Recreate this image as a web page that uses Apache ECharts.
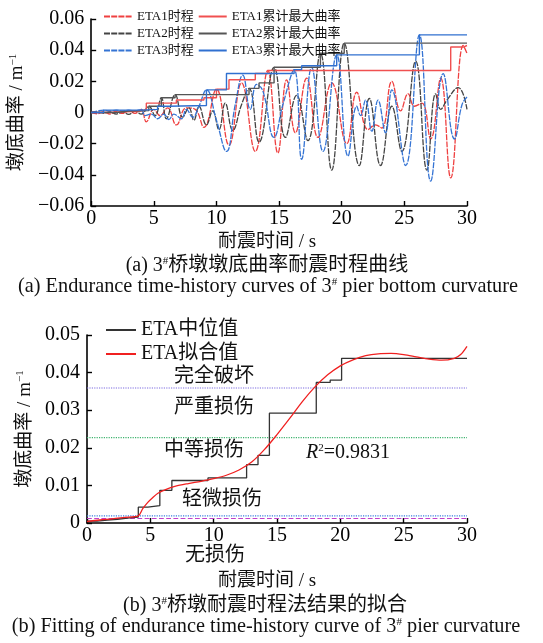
<!DOCTYPE html>
<html>
<head>
<meta charset="utf-8">
<script src="https://cdn.jsdelivr.net/npm/echarts@6/dist/echarts.min.js"></script>
<style>
  html, body { margin: 0; padding: 0; background: #fff; }
  #chart { width: 543px; height: 643px; }
</style>
</head>
<body>
<div id="chart"></div>
<script>
// ---- (a) pier-bottom curvature time histories (time in s, curvature in 1/m) ----
const eta1Time = [0,0.5,1,1.5,2,2.5,3,3.5,4,4.4,5.0,5.5,6.1,6.8,7.6,8.3,9.0,10.0,11.0,12.0,13.1,14.1,14.9,15.6,16.3,17.2,18.1,19.2,20.4,21.2,22.1,22.7,23.2,24.0,24.7,25.3,25.8,26.4,27.1,27.9,28.7,29.7,30];
const eta1Curv = [0,-0.0008,0.0005,-0.001,0.0008,-0.0006,0.001,-0.0005,0.002,-0.006,0.002,-0.002,0.003,-0.008,0.003,0.002,-0.0095,0.015,-0.021,0.019,-0.025,0.027,-0.026,0.021,-0.013,0.022,-0.016,0.019,-0.020,0.013,-0.011,-0.008,-0.010,0.020,0.001,0.012,0.004,0.006,-0.017,0.022,-0.042,0.043,0.038];

const eta2Time = [0,0.5,1,1.5,2,2.5,3,3.5,4,4.6,5.1,5.6,6.0,6.7,7.3,7.8,8.2,8.6,9.2,9.7,10.2,10.7,11.3,12.0,12.6,13.4,14.6,15.5,16.4,17.3,18.3,19.2,20.2,21.4,22.2,23.1,24.0,24.8,25.9,26.8,27.5,27.9,28.4,29.3,30];
const eta2Curv = [0,0.0005,-0.0005,0.0005,-0.001,0.0003,-0.0012,0.001,-0.001,0.004,-0.002,0.0095,-0.004,0.0115,-0.003,0.003,-0.005,0.004,-0.008,0.001,-0.011,0.006,-0.0115,0.005,0.0155,-0.019,0.029,-0.016,0.011,-0.018,0.038,-0.037,0.0445,-0.034,0.009,-0.034,0.004,-0.025,0.033,-0.037,0.012,0.002,0.008,0.016,0.002];

const eta3Time = [0,0.5,1,1.5,2,2.5,3,3.5,4,4.3,4.8,5.3,5.8,6.2,6.6,7.2,7.6,8.1,8.6,9.2,10.0,10.8,11.5,12.1,12.7,13.2,13.7,14.6,15.3,16.2,16.8,17.6,18.5,19.6,20.5,21.2,21.5,21.9,22.4,22.9,23.5,24.0,25.1,26.2,27.1,28.1,29.0,29.6,30];
const eta3Curv = [0,0.001,0.0015,0.001,0.0015,0.001,0.0015,0.001,0.002,-0.002,-0.001,-0.004,-0.001,-0.0045,-0.001,-0.004,0.002,-0.003,0.004,0.0145,-0.005,-0.025,0.005,0.024,0.002,0.018,0.014,-0.016,0.005,0.0275,-0.030,0.029,-0.025,0.037,-0.028,0.004,-0.002,0.008,-0.012,0.008,-0.013,0.0145,-0.034,0.0498,-0.044,0.025,-0.017,0.005,0.010];

// running maximum curvature (value holds from each time until the next)
const eta1MaxTime = [0,1.5,4.0,4.4,6.8,9.0,10.0,11.0,13.1,14.1,28.7,29.7,30];
const eta1MaxCurv = [0,0.001,0.002,0.006,0.008,0.0095,0.015,0.021,0.025,0.027,0.042,0.043,0.043];
const eta2MaxTime = [0,2.0,3.0,4.6,5.6,6.7,12.6,13.4,14.6,18.3,20.2,30];
const eta2MaxCurv = [0,0.001,0.0012,0.004,0.0095,0.0115,0.0155,0.019,0.029,0.038,0.0445,0.0445];
const eta3MaxTime = [0,1.0,4.0,5.3,6.2,9.2,10.8,16.2,16.8,19.6,26.2,30];
const eta3MaxCurv = [0,0.0015,0.002,0.004,0.0045,0.0145,0.025,0.0275,0.030,0.037,0.0498,0.0498];

// ---- (b) median and fitted endurance curve ----
const medianTime = [0,0.8,1.6,2.4,3.2,4.05,4.8,5.75,6.7,9.55,12.6,13.5,14.4,18.1,19.2,20.1,30];
const medianCurv = [0.0005,0.0008,0.001,0.0013,0.0016,0.0042,0.0046,0.0087,0.0113,0.012,0.0155,0.018,0.0292,0.0374,0.038,0.0438,0.0438];
const fitTime = [0,1,2,3,4.05,4.4,4.8,5.2,5.6,6.2,7,8,9,10,11,12,13,14,15,16,17,18,19,20,21,22,23,24,25,26,27,28,29,29.5,30];
const fitCurv = [0.0004,0.0008,0.0011,0.0015,0.0019,0.0038,0.0055,0.0068,0.0079,0.0089,0.0098,0.0105,0.0111,0.0118,0.0127,0.0141,0.0162,0.0195,0.0235,0.0278,0.0323,0.0362,0.0394,0.0418,0.0434,0.0445,0.045,0.0451,0.0448,0.0442,0.0436,0.0433,0.0438,0.0448,0.047];

// damage-state limit curvatures
const damageLimits = [0.0012, 0.0019, 0.0227, 0.0359];
const damageColors = ['#c23fc8', '#3c7fe0', '#3fb36e', '#7c6be0'];
const damageDash = ['dashed', 'dotted', 'dotted', 'dotted'];
const damageStates = ['无损伤', '轻微损伤', '中等损伤', '严重损伤', '完全破坏'];

const FONT = '"Liberation Serif","Noto Sans CJK SC",serif';
const zip = (t, v) => t.map((x, i) => [x, v[i]]);

const axisBase = {
  type: 'value',
  splitLine: { show: false },
  axisLine: { onZero: false, lineStyle: { color: '#000', width: 1.6 } },
  axisTick: { inside: true, length: 5, lineStyle: { color: '#000', width: 1.4 } },
  axisLabel: { color: '#000', fontFamily: FONT, fontSize: 20 }
};
const fmtY = v => v === 0 ? '0' : (v < 0 ? '\u2212' : '') + Math.abs(v).toFixed(2);
const supRich = { sup: { fontSize: 11, fontFamily: FONT, verticalAlign: 'top', padding: [0, 0, 8, 0] } };

const historySeries = (name, t, v, color) => ({
  name, type: 'line', xAxisIndex: 0, yAxisIndex: 0, data: zip(t, v),
  smooth: 0.45, symbol: 'none', showSymbol: false, z: 2,
  lineStyle: { color, width: 1.3, type: [6, 1.2] }, itemStyle: { color }
});
const maxSeries = (name, t, v, color) => ({
  name, type: 'line', xAxisIndex: 0, yAxisIndex: 0, data: zip(t, v),
  step: 'end', symbol: 'none', showSymbol: false, z: 3,
  lineStyle: { color, width: 1.4 }, itemStyle: { color }
});

const series = [
  historySeries('ETA1时程', eta1Time, eta1Curv, '#ef4040'),
  historySeries('ETA2时程', eta2Time, eta2Curv, '#444444'),
  historySeries('ETA3时程', eta3Time, eta3Curv, '#3574d4'),
  maxSeries('ETA1累计最大曲率', eta1MaxTime, eta1MaxCurv, '#f05050'),
  maxSeries('ETA2累计最大曲率', eta2MaxTime, eta2MaxCurv, '#555555'),
  maxSeries('ETA3累计最大曲率', eta3MaxTime, eta3MaxCurv, '#3070d0')
];
damageLimits.forEach((lim, i) => {
  series.push({
    type: 'line', xAxisIndex: 1, yAxisIndex: 1, symbol: 'none', silent: true, z: 1,
    data: [[0, lim], [30, lim]],
    lineStyle: { color: damageColors[i], width: 1.2, type: damageDash[i] }
  });
});
series.push({
  name: 'ETA中位值', type: 'line', xAxisIndex: 1, yAxisIndex: 1, data: zip(medianTime, medianCurv),
  step: 'end', symbol: 'none', showSymbol: false, z: 3, lineStyle: { color: '#333', width: 1.3 }, itemStyle: { color: '#333' }
});
series.push({
  name: 'ETA拟合值', type: 'line', xAxisIndex: 1, yAxisIndex: 1, data: zip(fitTime, fitCurv),
  smooth: 0.3, symbol: 'none', showSymbol: false, z: 4, lineStyle: { color: '#f02020', width: 1.3 }, itemStyle: { color: '#f02020' }
});

const txt = (x, y, text, size, extra) => ({
  type: 'text', x, y, silent: true,
  style: Object.assign({ text, fontSize: size, fontFamily: FONT, fill: '#111', align: 'center', verticalAlign: 'middle', rich: {} }, extra || {})
});
const richBase = size => ({
  n: { fontSize: size, fontFamily: FONT, fill: '#111' },
  sup: { fontSize: 11, fontFamily: FONT, fill: '#111', verticalAlign: 'top' },
  it: { fontSize: size, fontFamily: FONT, fontStyle: 'italic', fill: '#111' }
});

const option = {
  animation: false,
  backgroundColor: '#fff',
  grid: [
    { left: 87, top: 19, width: 380, height: 187 },
    { left: 87, top: 335, width: 380, height: 188 }
  ],
  xAxis: [
    Object.assign({}, axisBase, { gridIndex: 0, min: 0, max: 30, interval: 5,
      axisLabel: Object.assign({}, axisBase.axisLabel, { margin: 3 }) }),
    Object.assign({}, axisBase, { gridIndex: 1, min: 0, max: 30, interval: 5,
      axisLabel: Object.assign({}, axisBase.axisLabel, { margin: 3 }) })
  ],
  yAxis: [
    Object.assign({}, axisBase, { gridIndex: 0, min: -0.06, max: 0.06, interval: 0.02,
      axisLabel: Object.assign({}, axisBase.axisLabel, { margin: 7, formatter: fmtY }),
      name: '墩底曲率 / m{sup|\u22121}', nameLocation: 'middle', nameGap: 58,
      nameTextStyle: { fontFamily: FONT, fontSize: 19, color: '#111', rich: supRich } }),
    Object.assign({}, axisBase, { gridIndex: 1, min: 0, max: 0.05, interval: 0.01,
      axisLabel: Object.assign({}, axisBase.axisLabel, { margin: 7, formatter: fmtY }),
      name: '墩底曲率 / m{sup|\u22121}', nameLocation: 'middle', nameGap: 49,
      nameTextStyle: { fontFamily: FONT, fontSize: 19, color: '#111', rich: supRich } })
  ],
  legend: [
    {
      data: ['ETA1时程', 'ETA1累计最大曲率', 'ETA2时程', 'ETA2累计最大曲率', 'ETA3时程', 'ETA3累计最大曲率'],
      left: 98, top: 5, width: 250, itemWidth: 28, itemHeight: 10, itemGap: 4,
      selectedMode: false, itemStyle: { opacity: 0 },
      textStyle: { fontFamily: FONT, fontSize: 13, color: '#111', lineHeight: 13 }
    },
    {
      data: ['ETA中位值', 'ETA拟合值'],
      orient: 'vertical', left: 100, top: 315, itemWidth: 30, itemHeight: 10, itemGap: 4,
      selectedMode: false, itemStyle: { opacity: 0 },
      textStyle: { fontFamily: FONT, fontSize: 20, color: '#111', lineHeight: 20 }
    }
  ],
  graphic: [
    txt(267, 242, '耐震时间 / s', 19),
    txt(267, 266, '{n|(a) 3}{sup|#}{n|桥墩墩底曲率耐震时程曲线}', 20, { rich: richBase(20) }),
    txt(268, 287, '{n|(a) Endurance time-history curves of 3}{sup|#}{n| pier bottom curvature}', 20.3, { rich: richBase(20.3) }),
    txt(214, 377, damageStates[4], 20),
    txt(214, 408, damageStates[3], 20),
    txt(204, 451, damageStates[2], 20),
    txt(222, 500, damageStates[1], 20),
    txt(215, 556, damageStates[0], 20),
    txt(348, 453, '{it|R}{sup|2}{n|=0.9831}', 20, { rich: richBase(20) }),
    txt(267, 581, '耐震时间 / s', 19),
    txt(265, 606, '{n|(b) 3}{sup|#}{n|桥墩耐震时程法结果的拟合}', 20, { rich: richBase(20) }),
    txt(266, 627, '{n|(b) Fitting of endurance time-history curve of 3}{sup|#}{n| pier curvature}', 20.3, { rich: richBase(20.3) })
  ],
  series
};

const chart = echarts.init(document.getElementById('chart'), null, { renderer: 'canvas' });
chart.setOption(option);
</script>
</body>
</html>
